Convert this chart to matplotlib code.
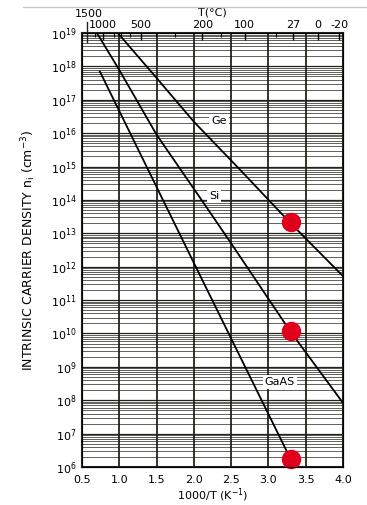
import matplotlib
matplotlib.use('Agg')
import matplotlib.pyplot as plt
import matplotlib.transforms as mtransforms
from matplotlib.lines import Line2D

# valeurs (x = 1000/T, y = n_i en cm^-3)
ge_x = [0.98, 1.5, 2.0, 2.62, 3.28, 4.0]
ge_n = [1e19, 4.5e17, 2.2e16, 8e14, 2.2e13, 5.2e11]

si_x = [0.70, 1.0, 1.5, 2.09, 2.5, 3.3, 4.0]
si_n = [1e19, 7.8e17, 9e15, 1.1e14, 5e12, 1.1e10, 8.3e7]

gaas_x = [0.74, 2.0, 3.35]
gaas_n = [7e17, 1.3e12, 1e6]

# points rouges a 27 C
pts_x = [3.3, 3.3, 3.3]
pts_n = [2.2e13, 1.2e10, 1.7e6]

temp_c = [1000, 500, 200, 100, 27, 0, -20]
temp_lab = ['1000', '500', '200', '100', '27', '0', '-20']
temp_minor = [1200, 800, 700, 600, 400, 300, 150, 50]

ink = '#23231a'

fig = plt.figure(figsize=(3.67, 5.05), dpi=100)
ax = fig.add_axes([82/367, 38/505, 261/367, 434/505])

ax.set_xlim(0.5, 4.0)
ax.set_yscale('log')
ax.set_ylim(1e6, 1e19)

# grille
for xv in [0.5 + 0.5 * k for k in range(8)]:
    ax.axvline(xv, color=ink, lw=1.3, zorder=1)
for e in range(6, 19):
    ax.axhline(10.0 ** e, color=ink, lw=0.9, zorder=1)
    for m in range(2, 10):
        ax.axhline(m * 10.0 ** e, color=ink, lw=0.5, zorder=1)

ax.plot(ge_x, ge_n, color='black', lw=1.3, zorder=3)
ax.plot(si_x, si_n, color='black', lw=1.3, zorder=3)
ax.plot(gaas_x, gaas_n, color='black', lw=1.3, zorder=3)

box = dict(facecolor='white', edgecolor='none', pad=1.5)
ax.text(2.23, 2.3e16, 'Ge', fontsize=8, ha='left', va='center', bbox=box, zorder=4)
ax.text(2.20, 1.3e14, 'Si', fontsize=8, ha='left', va='center', bbox=box, zorder=4)
ax.text(2.95, 3.5e8, 'GaAS', fontsize=8, ha='left', va='center', bbox=box, zorder=4)

ax.plot(pts_x, pts_n, 'o', color='#e0001b', markersize=13, zorder=5, clip_on=False)

ax.set_xticks([0.5 + 0.5 * k for k in range(8)])
ax.set_xticklabels(['%.1f' % (0.5 + 0.5 * k) for k in range(8)])
ax.set_yticks([10.0 ** e for e in range(6, 20)])
ax.set_yticklabels(['10$^{%d}$' % e for e in range(6, 20)])
ax.yaxis.set_minor_locator(matplotlib.ticker.NullLocator())
ax.tick_params(axis='y', length=0, labelsize=8, pad=4)
ax.tick_params(axis='x', length=0, labelsize=8, pad=6)
for s in ax.spines.values():
    s.set_linewidth(1.5)
    s.set_color(ink)

ax.set_xlabel('1000/T (K$^{-1}$)', fontsize=8)
ax.xaxis.set_label_coords(0.5, -0.064)
ax.xaxis.label.set_va('center')
ax.set_ylabel('INTRINSIC CARRIER DENSITY n$_{\\mathrm{i}}$ (cm$^{-3}$)', fontsize=9, labelpad=9)

# axe du haut en degres C
ax2 = ax.twiny()
ax2.set_xlim(ax.get_xlim())
ax2.set_xticks([1000.0 / (t + 273) for t in temp_c])
ax2.set_xticklabels(temp_lab)
ax2.set_xticks([1000.0 / (t + 273) for t in temp_minor], minor=True)
ax2.tick_params(axis='x', which='major', direction='in', length=5, width=1, labelsize=8, pad=2)
ax2.tick_params(axis='x', which='minor', direction='in', length=3, width=0.8)
ax2.set_xlabel('T(\u00b0C)', fontsize=8)
ax2.xaxis.set_label_coords(0.5, 1.035)
ax2.xaxis.label.set_va('bottom')

x1500 = 1000.0 / (1500 + 273)
trans = mtransforms.blended_transform_factory(ax2.transData, ax2.transAxes)
ax2.add_line(Line2D([x1500, x1500], [0.98, 1.026], transform=trans, color=ink, lw=1, clip_on=False))
ax2.text(x1500 + 0.03, 1.033, '1500', transform=trans, fontsize=8, ha='center', va='bottom')

# trait gris en haut
fig.add_artist(Line2D([23/367, 1.0], [1 - 7/505, 1 - 7/505], color='#c8c8c8', lw=1))

fig.savefig('out.png', dpi=100)
